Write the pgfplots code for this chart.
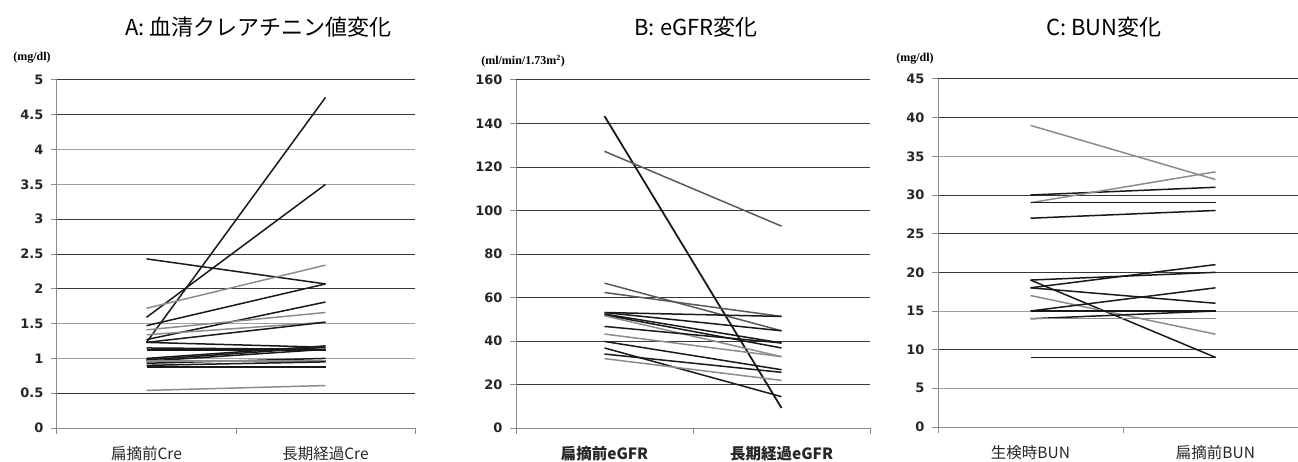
\documentclass[border=0pt]{standalone}
\usepackage{pgfplots}
\pgfplotsset{compat=1.18}
\usepackage{fontspec}
\setmainfont{Carlito}
\newfontfamily\tkb{DejaVu Sans}
\newfontfamily\jp{Noto Sans CJK JP}
\newfontfamily\ser{Liberation Serif}
\definecolor{dk}{gray}{0.1}
\definecolor{md}{gray}{0.35}
\definecolor{lt}{gray}{0.55}
\definecolor{gd}{gray}{0.22}
\definecolor{gl}{gray}{0.62}
\definecolor{ax}{gray}{0.55}
\pgfplotsset{
 panel/.style={
  scale only axis, height=348pt, anchor=south west,
  xmin=-0.5, xmax=1.5,
  axis x line*=bottom, axis y line*=left,
  axis line style={ax, line width=1pt},
  tick align=outside, major tick length=6pt,
  xtick={0,1}, xtick style={draw=none},
  extra x ticks={-0.5,0.5,1.5}, extra x tick labels={},
  extra x tick style={xtick style={draw=ax, line width=1pt}},
  ytick style={draw=ax, line width=1pt},
  ymajorgrids, grid style={gd, line width=1pt},
  /pgf/number format/assume math mode=true,
  yticklabel style={font=\tkb\bfseries\fontsize{13}{15}\selectfont, text=black!85, xshift=-4pt},
  xticklabel style={font=\jp\fontsize{15.5}{16}\selectfont, text=black!85, yshift=-9pt},
  every axis plot/.append style={line width=1.5pt},
 }
}
\begin{document}
\begin{tikzpicture}
% ---------- A ----------
\begin{axis}[panel, at={(57pt,33pt)}, width=358pt,
  ymin=0, ymax=5, ytick={0,0.5,2,2.5,3,4.5,5},
  extra y ticks={1,1.5,3.5,4}, extra y tick style={grid style={gl, line width=1pt}},
  xticklabels={扁摘前Cre,長期経過Cre}]
\addplot[dk] coordinates {(0,1.23) (1,4.75)};
\addplot[dk] coordinates {(0,1.59) (1,3.50)};
\addplot[dk] coordinates {(0,2.43) (1,2.07)};
\addplot[lt] coordinates {(0,1.72) (1,2.34)};
\addplot[dk] coordinates {(0,1.47) (1,2.07)};
\addplot[dk] coordinates {(0,1.27) (1,1.81)};
\addplot[lt] coordinates {(0,1.41) (1,1.66)};
\addplot[lt] coordinates {(0,1.34) (1,1.52)};
\addplot[dk] coordinates {(0,1.23) (1,1.52)};
\addplot[dk] coordinates {(0,1.23) (1,1.16)};
\addplot[dk] coordinates {(0,1.15) (1,1.13)};
\addplot[dk] coordinates {(0,1.12) (1,1.12)};
\addplot[dk] coordinates {(0,1.00) (1,1.18)};
\addplot[dk] coordinates {(0,0.98) (1,1.16)};
\addplot[dk] coordinates {(0,0.96) (1,1.13)};
\addplot[dk] coordinates {(0,0.93) (1,1.00)};
\addplot[lt] coordinates {(0,0.96) (1,0.96)};
\addplot[dk] coordinates {(0,0.90) (1,0.95)};
\addplot[dk] coordinates {(0,0.88) (1,0.88)};
\addplot[lt] coordinates {(0,0.54) (1,0.61)};
\end{axis}
% ---------- B ----------
\begin{axis}[panel, at={(516pt,33pt)}, width=354pt,
  ymin=0, ymax=160, ytick={0,20,...,160},
  xticklabel style={font=\jp\bfseries\fontsize{15.5}{16}\selectfont},
  xticklabels={扁摘前eGFR,長期経過eGFR}]
\addplot[dk, line width=1.8pt] coordinates {(0,143.4) (1,9.2)};
\addplot[md] coordinates {(0,127.2) (1,92.8)};
\addplot[md] coordinates {(0,66.6) (1,44.7)};
\addplot[md] coordinates {(0,62.3) (1,51.3)};
\addplot[dk] coordinates {(0,53.1) (1,51.3)};
\addplot[dk] coordinates {(0,53.1) (1,44.7)};
\addplot[dk] coordinates {(0,52.4) (1,39.1)};
\addplot[dk] coordinates {(0,52.0) (1,36.8)};
\addplot[lt] coordinates {(0,51.6) (1,32.8)};
\addplot[dk] coordinates {(0,46.7) (1,39.1)};
\addplot[lt] coordinates {(0,43.2) (1,32.8)};
\addplot[dk] coordinates {(0,39.8) (1,26.8)};
\addplot[dk] coordinates {(0,36.8) (1,14.4)};
\addplot[dk] coordinates {(0,34.0) (1,25.6)};
\addplot[lt] coordinates {(0,31.9) (1,21.9)};
\end{axis}
% ---------- C ----------
\begin{axis}[panel, at={(938pt,34pt)}, width=370pt,
  ymin=0, ymax=45, ytick={0,10,20,25,30,40,45},
  extra y ticks={5,15,35}, extra y tick style={grid style={gl, line width=1pt}},
  xticklabels={生検時BUN,扁摘前BUN}]
\addplot[lt] coordinates {(0,39) (1,32)};
\addplot[dk] coordinates {(0,30) (1,31)};
\addplot[lt] coordinates {(0,29) (1,33)};
\addplot[dk] coordinates {(0,29) (1,29)};
\addplot[dk] coordinates {(0,27) (1,28)};
\addplot[dk] coordinates {(0,19) (1,9)};
\addplot[dk] coordinates {(0,19) (1,20)};
\addplot[dk] coordinates {(0,18) (1,21)};
\addplot[dk] coordinates {(0,18) (1,16)};
\addplot[lt] coordinates {(0,17) (1,12)};
\addplot[dk] coordinates {(0,15) (1,18)};
\addplot[dk] coordinates {(0,15) (1,15)};
\addplot[dk] coordinates {(0,14) (1,15)};
\addplot[lt] coordinates {(0,14) (1,14)};
\addplot[dk] coordinates {(0,9) (1,9)};
\end{axis}
% titles and units
\node[font=\jp\fontsize{22}{23}\selectfont] at (258pt,434pt) {A: 血清クレアチニン値変化};
\node[font=\jp\fontsize{22}{23}\selectfont] at (696pt,434pt) {B: eGFR変化};
\node[font=\jp\fontsize{22}{23}\selectfont] at (1104pt,434pt) {C: BUN変化};
\node[font=\ser\bfseries\fontsize{12}{13}\selectfont] at (32pt,403pt) {(mg/dl)};
\node[font=\ser\bfseries\fontsize{12}{13}\selectfont] at (523pt,400pt) {(ml/min/1.73m\textsuperscript{2})};
\node[font=\ser\bfseries\fontsize{12}{13}\selectfont] at (915pt,402pt) {(mg/dl)};
\pgfresetboundingbox
\path[use as bounding box] (0,0) rectangle (1298pt,461pt);
\end{tikzpicture}
\end{document}
